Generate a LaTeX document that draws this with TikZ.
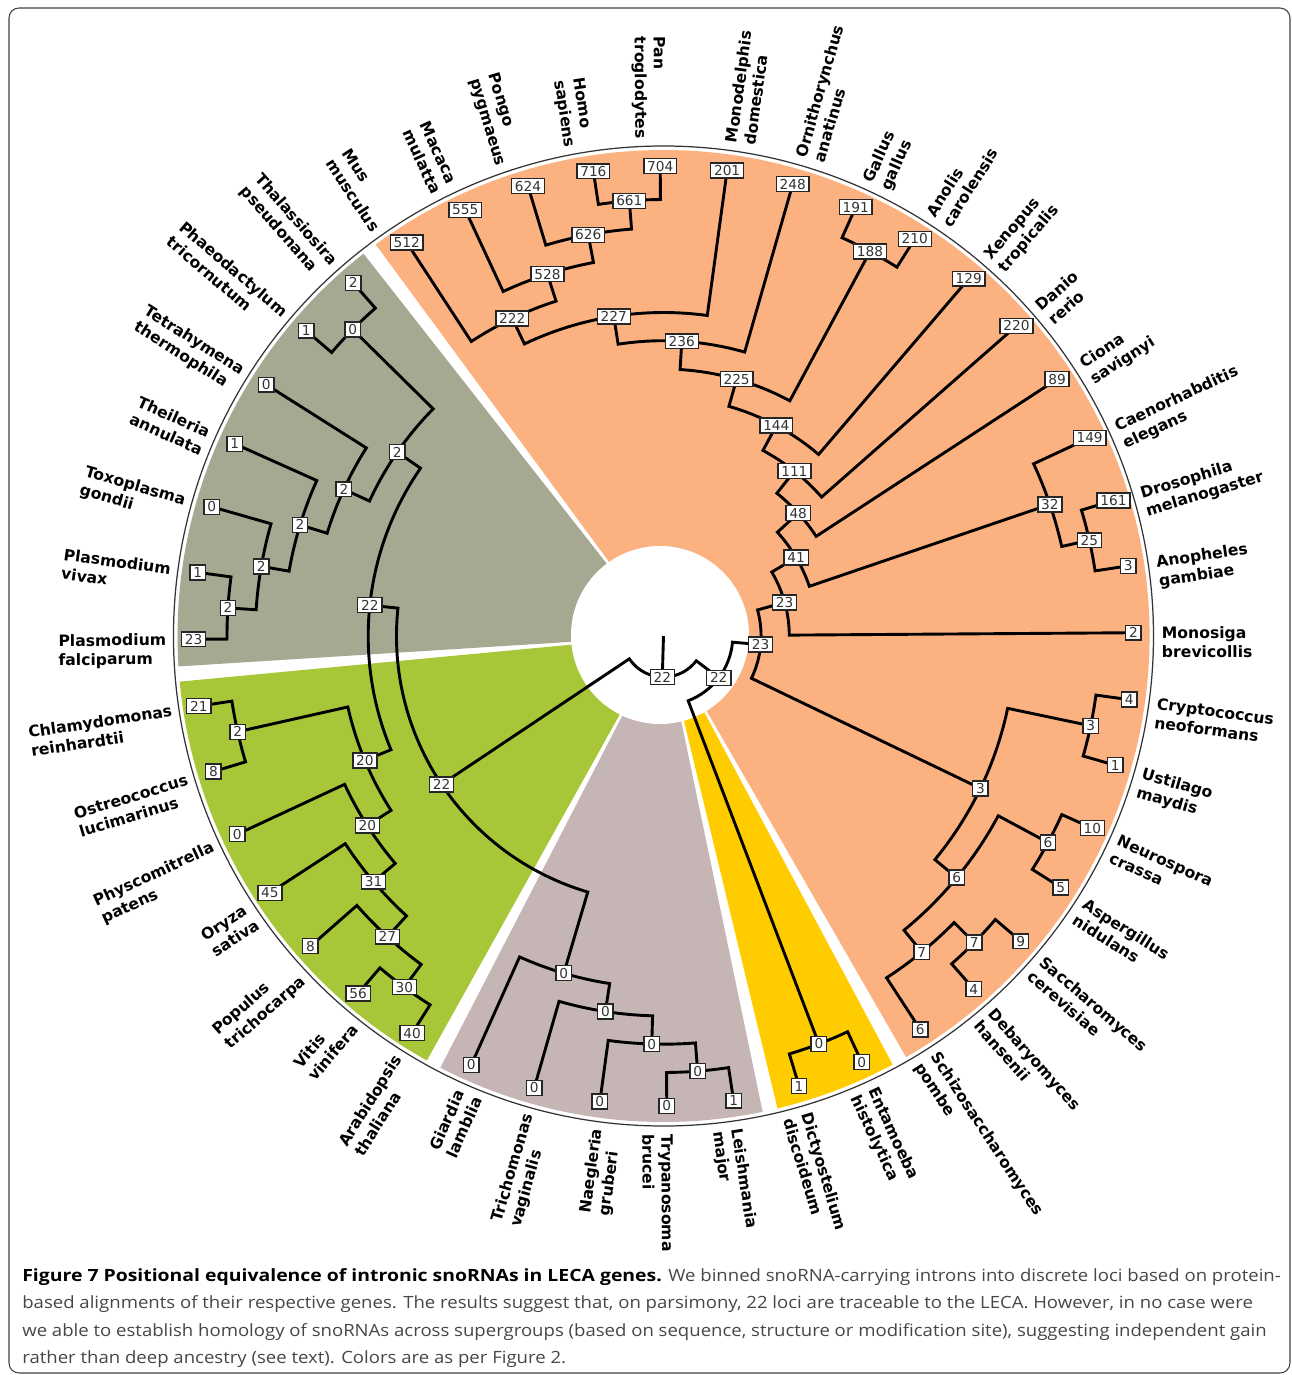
\documentclass[tikz,border=0pt]{standalone}
\usepackage{fontspec}
\setmainfont{DejaVu Sans}
\newfontfamily\dvs{DejaVu Sans}
\newfontfamily\capfont[FakeStretch=1.10]{Open Sans}
\newfontfamily\capfontB[FakeStretch=1.15]{Open Sans}
\pgfdeclarelayer{bg}
\pgfdeclarelayer{ln}
\pgfsetlayers{bg,ln,main}
\definecolor{cOr}{RGB}{251,177,128}
\definecolor{cGy}{RGB}{166,168,146}
\definecolor{cGn}{RGB}{167,199,57}
\definecolor{cPk}{RGB}{197,181,180}
\definecolor{cYe}{RGB}{255,204,0}
\definecolor{capgray}{RGB}{70,70,70}
\tikzset{
  nb/.style={draw=black!85, line width=0.8pt, fill=white, inner xsep=1.9pt, inner ysep=1.4pt,
    text=black!80, font=\dvs\fontsize{7.8}{8}\selectfont, text height=5.7pt, text depth=0pt},
  br/.style={line width=1.65pt, line join=miter},
  lab/.style={font=\dvs\bfseries\fontsize{8.9}{10.8}\selectfont, align=left, inner sep=0pt},
  capt/.style={anchor=base west, inner sep=0pt, font=\capfont\fontsize{9.6}{11}\selectfont, text=capgray},
}
\newcommand\brn[5]{\draw[br] (#1.center) -- (#2:#5) arc[start angle=#2, end angle=#4, radius=#5*0.2mm] -- (#3.center);}
\newcommand\sector[3]{\fill[#1] (0,0) -- (#2:486) arc[start angle=#2, end angle=#3, radius=486*0.2mm] -- cycle;}
\newcommand\leaflab[3]{%
  \pgfmathtruncatemacro\lside{(#2>90)*(#2<270)}%
  \ifnum\lside=1
    \pgfmathsetmacro\lrot{#2-180}%
    \node[lab, rotate=\lrot, anchor=north east, yshift=3.5pt] (#1) at (#2:497) {#3};%
  \else
    \node[lab, rotate=#2, anchor=north west, yshift=3.5pt] (#1) at (#2:498) {#3};%
  \fi}
\begin{document}
\begin{tikzpicture}[x=0.2mm, y=0.2mm]
\useasboundingbox (-663.5,-739) rectangle (628.5,636);

\begin{pgfonlayer}{bg}
  \draw[black!75, line width=0.6pt, rounded corners=2mm] (-654.5,628) rectangle (626.5,-737);
  \sector{cOr}{-60.06}{126.32}
  \sector{cGy}{128.12}{183.59}
  \sector{cGn}{185.39}{240.86}
  \sector{cPk}{242.66}{281.77}
  \sector{cYe}{283.57}{298.14}
  \fill[white] (-3.5,1) circle[radius=89*0.2mm];
  \draw[black!80, line width=0.7pt] (0,0) circle[radius=490*0.2mm];
\end{pgfonlayer}

% leaves
\foreach \i/\v/\t in {
 0/2/{Monosiga\\brevicollis}, 1/3/{Anopheles\\gambiae}, 2/161/{Drosophila\\melanogaster},
 3/149/{Caenorhabditis\\elegans}, 4/89/{Ciona\\savignyi}, 5/220/{Danio\\rerio},
 6/129/{Xenopus\\tropicalis}, 7/210/{Anolis\\carolensis}, 8/191/{Gallus\\gallus},
 9/248/{Ornithorynchus\\anatinus}, 10/201/{Monodelphis\\domestica}, 11/704/{Pan\\troglodytes},
 12/716/{Homo\\sapiens}, 13/624/{Pongo\\pygmaeus}, 14/555/{Macaca\\mulatta},
 15/512/{Mus\\musculus}, 16/2/{Thalassiosira\\pseudonana}, 17/1/{Phaeodactylum\\tricornutum},
 18/0/{Tetrahymena\\thermophila}, 19/1/{Theileria\\annulata}, 20/0/{Toxoplasma\\gondii},
 21/1/{Plasmodium\\vivax}, 22/23/{Plasmodium\\falciparum}, 23/21/{Chlamydomonas\\reinhardtii},
 24/8/{Ostreococcus\\lucimarinus}, 25/0/{Physcomitrella\\patens}, 26/45/{Oryza\\sativa},
 27/8/{Populus\\trichocarpa}, 28/56/{Vitis\\vinifera}, 29/40/{Arabidopsis\\thaliana},
 30/0/{Giardia\\lamblia}, 31/0/{Trichomonas\\vaginalis}, 32/0/{Naegleria\\gruberi},
 33/0/{Trypanosoma\\brucei}, 34/1/{Leishmania\\major}, 35/1/{Dictyostelium\\discoideum},
 36/0/{Entamoeba\\histolytica}, 37/6/{Schizosaccharomyces\\pombe}, 38/4/{Debaryomyces\\hansenii},
 39/9/{Saccharomyces\\cerevisiae}, 40/5/{Aspergillus\\nidulans}, 41/10/{Neurospora\\crassa},
 42/1/{Ustilago\\maydis}, 43/4/{Cryptococcus\\neoformans}}{
  \pgfmathsetmacro\a{0.4+\i*360/44}
  \node[nb] (l\i) at (\a:470) {\v};
  \leaflab{t\i}{\a}{\t}
}

% internal nodes
\foreach \nm/\a/\r/\v in {
 n661/94.49/436.5/661, n626/100.625/408.2/626, n528/107.79/380.0/528, n222/115.46/351.7/222,
 n227/98.84/323.5/227, n236/86.44/295.3/236, n188/61.76/436.5/188, n225/74.10/267.0/225,
 n144/61.80/238.8/144, n111/51.55/210.5/111, n48/42.34/182.3/48, n25/12.67/436.5/25,
 n32/18.81/408.2/32, n41/30.575/154.1/41, n23u/15.49/125.8/23,
 n3cu/348.13/436.5/3, n6na/331.76/436.5/6, n7sd/315.40/436.5/7, n7l/309.265/408.2/7,
 n6m/320.51/380.0/6, n3m/334.32/351.7/3, n23l/354.905/97.6/23,
 n0y/290.855/436.5/0, n22r/322.88/69.3/22,
 n0a/274.49/436.5/0, n0b/268.355/408.2/0, n0c/261.20/380.0/0, n0d/253.525/351.7/0,
 n2g/192.67/436.5/2, n30/233.58/436.5/30, n27/227.445/408.2/27, n31/220.29/380.0/31,
 n20l/212.62/351.7/20, n20u/202.645/323.5/20,
 n0g/135.40/436.5/0, n2pp/176.31/436.5/2, n2tx/170.175/408.2/2, n2th/163.01/380.0/2,
 n2te/155.34/351.7/2, n2gr/145.37/323.5/2, n22g/174.01/295.3/22, n22m/213.77/267.0/22,
 nroot/268.325/41.1/22}{
  \node[nb] (\nm) at (\a:\r) {\v};
}

\begin{pgfonlayer}{ln}
  \brn{l11}{90.40}{l12}{98.58}{436.5}
  \brn{n661}{94.49}{l13}{106.76}{408.2}
  \brn{n626}{100.625}{l14}{114.95}{380.0}
  \brn{n528}{107.79}{l15}{123.13}{351.7}
  \brn{l10}{82.22}{n222}{115.46}{323.5}
  \brn{l9}{74.04}{n227}{98.84}{295.3}
  \brn{l7}{57.67}{l8}{65.85}{436.5}
  \brn{n188}{61.76}{n236}{86.44}{267.0}
  \brn{l6}{49.49}{n225}{74.10}{238.8}
  \brn{l5}{41.31}{n144}{61.80}{210.5}
  \brn{l4}{33.13}{n111}{51.55}{182.3}
  \brn{l1}{8.58}{l2}{16.76}{436.5}
  \brn{n25}{12.67}{l3}{24.95}{408.2}
  \brn{n32}{18.81}{n48}{42.34}{154.1}
  \brn{l0}{0.40}{n41}{30.575}{125.8}
  \brn{l42}{344.04}{l43}{352.22}{436.5}
  \brn{l40}{327.67}{l41}{335.85}{436.5}
  \brn{l38}{311.31}{l39}{319.49}{436.5}
  \brn{l37}{303.13}{n7sd}{315.40}{408.2}
  \brn{n7l}{309.265}{n6na}{331.76}{380.0}
  \brn{n6m}{320.51}{n3cu}{348.13}{351.7}
  \brn{n3m}{-25.68}{n23u}{15.49}{97.6}
  \brn{l35}{286.76}{l36}{294.95}{436.5}
  \brn{n0y}{290.855}{n23l}{354.905}{69.3}
  \brn{l33}{270.40}{l34}{278.58}{436.5}
  \brn{l32}{262.22}{n0a}{274.49}{408.2}
  \brn{l31}{254.04}{n0b}{268.355}{380.0}
  \brn{l30}{245.85}{n0c}{261.20}{351.7}
  \brn{l23}{188.58}{l24}{196.76}{436.5}
  \brn{l28}{229.49}{l29}{237.67}{436.5}
  \brn{l27}{221.31}{n30}{233.58}{408.2}
  \brn{l26}{213.13}{n27}{227.445}{380.0}
  \brn{l25}{204.95}{n31}{220.29}{351.7}
  \brn{n2g}{192.67}{n20l}{212.62}{323.5}
  \brn{l16}{131.31}{l17}{139.49}{436.5}
  \brn{l21}{172.22}{l22}{180.40}{436.5}
  \brn{l20}{164.04}{n2pp}{176.31}{408.2}
  \brn{l19}{155.85}{n2tx}{170.175}{380.0}
  \brn{l18}{147.67}{n2th}{163.01}{351.7}
  \brn{n0g}{135.40}{n2te}{155.34}{323.5}
  \brn{n2gr}{145.37}{n20u}{202.645}{295.3}
  \brn{n22g}{174.01}{n0d}{253.525}{267.0}
  \brn{n22m}{213.77}{n22r}{322.88}{41.1}
  \draw[br] (nroot.center) -- (0,0);
\end{pgfonlayer}

% caption
\node[capt] (cap1) at (-641.5,-645) {{\capfontB\bfseries\color{black}Figure 7 Positional equivalence of intronic snoRNAs in LECA genes.} We binned snoRNA-carrying introns into discrete loci based on protein-};
\node[capt] (cap2) at (-641.5,-672) {based alignments of their respective genes. The results suggest that, on parsimony, 22 loci are traceable to the LECA. However, in no case were};
\node[capt] (cap3) at (-641.5,-700) {we able to establish homology of snoRNAs across supergroups (based on sequence, structure or modification site), suggesting independent gain};
\node[capt] (cap4) at (-641.5,-727) {rather than deep ancestry (see text). Colors are as per Figure 2.};
\end{tikzpicture}
\end{document}
